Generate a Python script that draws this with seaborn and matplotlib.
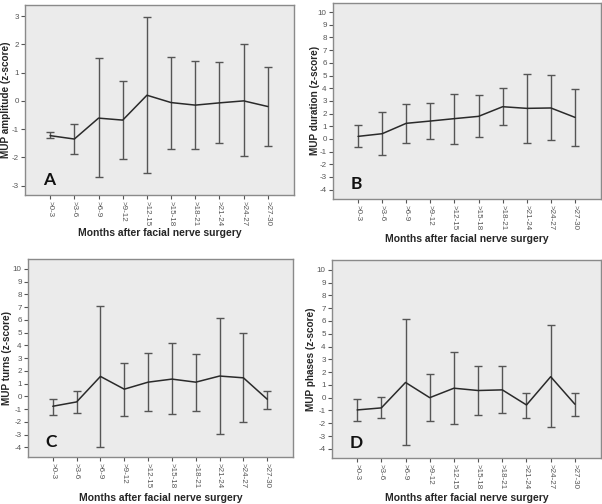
import numpy as np
import pandas as pd
import seaborn as sns
import matplotlib
matplotlib.use("Agg")
import matplotlib.pyplot as plt

categories = [">0-3", ">3-6", ">6-9", ">9-12", ">12-15", ">15-18", ">18-21", ">21-24", ">24-27", ">27-30"]

amp_mean = [-1.23, -1.35, -0.61, -0.68, 0.20, -0.06, -0.15, -0.07, 0.00, -0.20]
amp_hi = [-1.11, -0.82, 1.50, 0.69, 2.96, 1.57, 1.41, 1.36, 2.00, 1.21]
amp_lo = [-1.33, -1.88, -2.71, -2.05, -2.55, -1.69, -1.69, -1.49, -1.96, -1.58]

dur_mean = [0.20, 0.41, 1.23, 1.41, 1.60, 1.78, 2.54, 2.41, 2.44, 1.70]
dur_hi = [1.07, 2.10, 2.72, 2.86, 3.56, 3.43, 3.99, 5.09, 5.01, 3.91]
dur_lo = [-0.67, -1.24, -0.32, 0.00, -0.37, 0.12, 1.07, -0.32, -0.09, -0.53]

turn_mean = [-0.77, -0.43, 1.57, 0.57, 1.12, 1.36, 1.12, 1.60, 1.46, -0.22]
turn_hi = [-0.22, 0.41, 7.11, 2.62, 3.41, 4.19, 3.33, 6.17, 4.98, 0.41]
turn_lo = [-1.43, -1.32, -4.00, -1.56, -1.16, -1.40, -1.16, -2.92, -2.03, -0.96]

phase_mean = [-0.96, -0.80, 1.19, 0.00, 0.74, 0.56, 0.61, -0.57, 1.64, -0.51]
phase_hi = [-0.12, 0.04, 6.17, 1.85, 3.55, 2.48, 2.48, 0.40, 5.67, 0.35]
phase_lo = [-1.81, -1.60, -3.72, -1.83, -2.07, -1.39, -1.20, -1.60, -2.33, -1.43]

ylabels = ["MUP amplitude (z-score)", "MUP duration (z-score)",
           "MUP turns (z-score)", "MUP phases (z-score)"]
letters = ["A", "B", "C", "D"]
xlabel = "Months after facial nerve surgery"

sns.set_theme(style="white")
plt.rcParams['font.family'] = ['Liberation Sans', 'DejaVu Sans']

W, H = 602, 504
fig = plt.figure(figsize=(W / 100, H / 100), dpi=100)

# boxes in pixel coords: left, right, top, bottom
boxes = [(25, 294, 4.5, 195), (333, 601, 2.5, 199), (28, 293, 259, 457), (332, 601, 260, 458)]
ylims = [(-3.33, 3.41), (-4.74, 10.76), (-4.75, 10.78), (-4.72, 10.77)]
yticks = [list(range(-3, 4)), list(range(-4, 11)), list(range(-4, 11)), list(range(-4, 11))]
series = [(amp_mean, amp_lo, amp_hi), (dur_mean, dur_lo, dur_hi),
          (turn_mean, turn_lo, turn_hi), (phase_mean, phase_lo, phase_hi)]
ylab_x = [6, 315, 7, 311]       # pixel x of the y label centre
xlab_y = [233, 239, 498, 498]   # pixel y of the x label centre

frame_col = "#8a8a8a"
bg_col = "#ebebeb"
tick_col = "#555555"

for i in range(4):
    l, r, t, b = boxes[i]
    ax = fig.add_axes([l / W, 1 - b / H, (r - l) / W, (b - t) / H])
    ax.set_facecolor(bg_col)
    m, lo, hi = series[i]
    df = pd.DataFrame({"x": np.arange(len(categories)), "mean": m, "lo": lo, "hi": hi})
    ax.errorbar(df["x"], df["mean"], yerr=[df["mean"] - df["lo"], df["hi"] - df["mean"]],
                fmt="none", ecolor="#555555", elinewidth=1.0, capsize=2.6, capthick=1.0, zorder=2)
    sns.lineplot(data=df, x="x", y="mean", ax=ax, color="#2a2a2a", linewidth=1.1, zorder=3)
    ax.set_xlim(-1.04, 10.08)
    ax.set_ylim(*ylims[i])
    ax.set_xticks(np.arange(len(categories)))
    ax.set_xticklabels(categories, rotation=-90, fontsize=5.8, color=tick_col)
    ax.set_yticks(yticks[i])
    ax.set_yticklabels([str(v) for v in yticks[i]], fontsize=5.8, color=tick_col)
    ax.tick_params(axis="both", direction="out", length=3, width=0.8, color=tick_col, pad=1.5)
    ax.tick_params(left=True, bottom=True)
    for s in ax.spines.values():
        s.set_color(frame_col)
        s.set_linewidth(1.0)
    ax.set_xlabel(xlabel, fontsize=7.5, fontweight="bold")
    ax.set_ylabel(ylabels[i], fontsize=7.2, fontweight="bold")
    ax.xaxis.set_label_coords(0.5, (b - xlab_y[i]) / (b - t))
    ax.xaxis.label.set_va("center")
    ax.yaxis.set_label_coords((ylab_x[i] - l) / (r - l), 0.5)
    ax.yaxis.label.set_va("center")
    ax.text(0.066, 0.035, letters[i], transform=ax.transAxes, fontsize=12.5, fontweight="bold",
            family=["Lato", "DejaVu Sans"], color="#111111", ha="left", va="bottom")

fig.savefig("out.png", dpi=100)
